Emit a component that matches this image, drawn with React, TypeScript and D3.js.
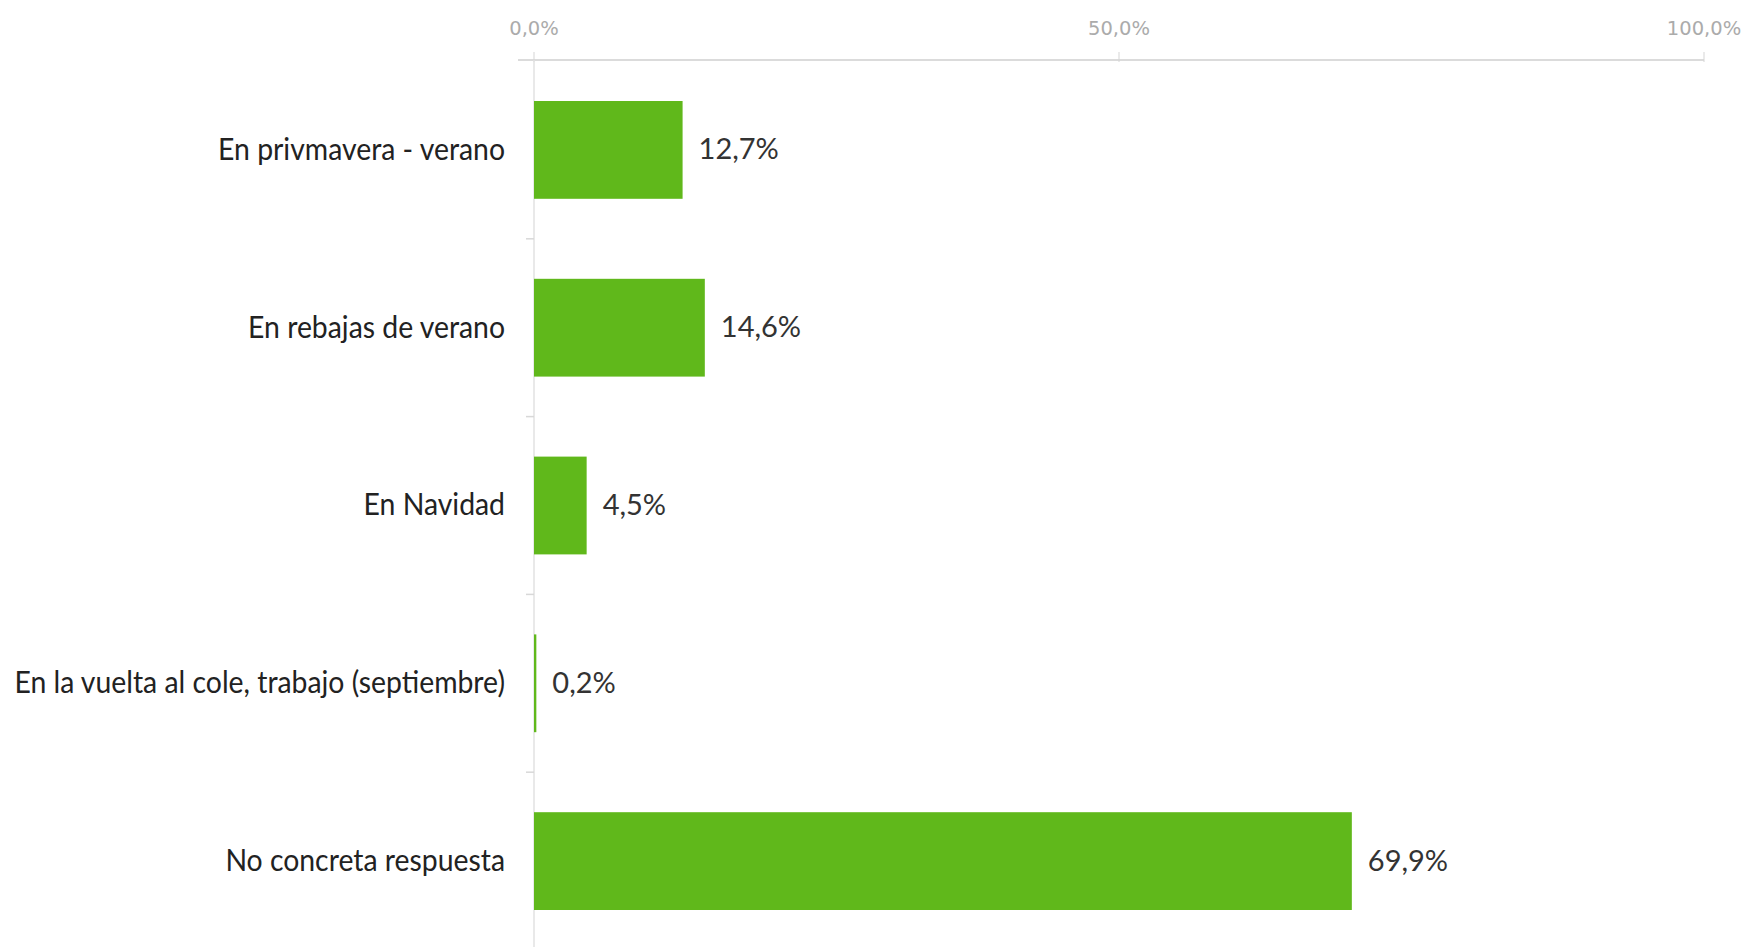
import React, { useEffect, useRef } from "react";
import * as d3 from "d3";

const categories: string[] = [
  "En privmavera - verano",
  "En rebajas de verano",
  "En Navidad",
  "En la vuelta al cole, trabajo (septiembre)",
  "No concreta respuesta",
];
const values: number[] = [12.7, 14.6, 4.5, 0.2, 69.9];
const xTicks: number[] = [0, 50, 100];

const W = 1751;
const H = 947;

const fmt = (v: number) => v.toFixed(1).replace(".", ",") + "%";

export default function App() {
  const ref = useRef<SVGSVGElement>(null);
  useEffect(() => {
    const svg = d3.select(ref.current);
    svg.selectAll("*").remove();
    const x = d3.scaleLinear().domain([0, 100]).range([534, 1704]);
    const y = d3
      .scaleBand<string>()
      .domain(categories)
      .range([61, 950])
      .paddingInner(0.45)
      .paddingOuter(0.225);
    const axisY = 60;
    const font = "'Lato', sans-serif";

    svg
      .append("line")
      .attr("x1", 518)
      .attr("x2", x(100))
      .attr("y1", axisY)
      .attr("y2", axisY)
      .attr("stroke", "#cfcfcf")
      .attr("stroke-width", 1.5);
    svg
      .selectAll(".xt")
      .data(xTicks)
      .enter()
      .append("line")
      .attr("x1", (d) => x(d))
      .attr("x2", (d) => x(d))
      .attr("y1", axisY - 8)
      .attr("y2", axisY + 2)
      .attr("stroke", "#d5d5d5")
      .attr("stroke-width", 1);
    svg
      .selectAll(".xl")
      .data(xTicks)
      .enter()
      .append("text")
      .attr("x", (d) => x(d))
      .attr("y", 35)
      .attr("text-anchor", "middle")
      .attr("font-family", "'DejaVu Sans', sans-serif")
      .attr("font-size", 19.5)
      .attr("fill", "#ababab")
      .text((d) => fmt(d));

    svg
      .append("line")
      .attr("x1", x(0))
      .attr("x2", x(0))
      .attr("y1", axisY)
      .attr("y2", H)
      .attr("stroke", "#e2e2e2")
      .attr("stroke-width", 1.5);
    const step = y.step();
    const bounds = categories.slice(1).map((c) => (y(c) as number) - step * 0.225);
    svg
      .selectAll(".yt")
      .data(bounds)
      .enter()
      .append("line")
      .attr("x1", x(0) - 8)
      .attr("x2", x(0))
      .attr("y1", (d) => d)
      .attr("y2", (d) => d)
      .attr("stroke", "#d8d8d8")
      .attr("stroke-width", 1.5);

    svg
      .selectAll(".bar")
      .data(categories)
      .enter()
      .append("rect")
      .attr("x", x(0))
      .attr("y", (d) => y(d) as number)
      .attr("width", (_, i) => x(values[i]) - x(0))
      .attr("height", y.bandwidth())
      .attr("fill", "#60b81b");

    svg
      .selectAll(".vl")
      .data(categories)
      .enter()
      .append("text")
      .attr("x", (_, i) => x(values[i]) + 16)
      .attr("y", (d) => (y(d) as number) + y.bandwidth() / 2)
      .attr("dy", "0.33em")
      .attr("font-family", font)
      .attr("font-size", 29)
      .attr("fill", "#333")
      .text((_, i) => fmt(values[i]));

    svg
      .selectAll(".cl")
      .data(categories)
      .enter()
      .append("text")
      .attr(
        "transform",
        (d) => `translate(505,${(y(d) as number) + y.bandwidth() / 2}) scale(0.915,1)`
      )
      .attr("dy", "0.32em")
      .attr("text-anchor", "end")
      .attr("font-family", font)
      .attr("font-size", 31)
      .attr("fill", "#222")
      .text((d) => d);
  }, []);
  return (
    <svg
      ref={ref}
      width={W}
      height={H}
      style={{ position: "absolute", left: 0, top: 0, background: "#fff" }}
    />
  );
}
